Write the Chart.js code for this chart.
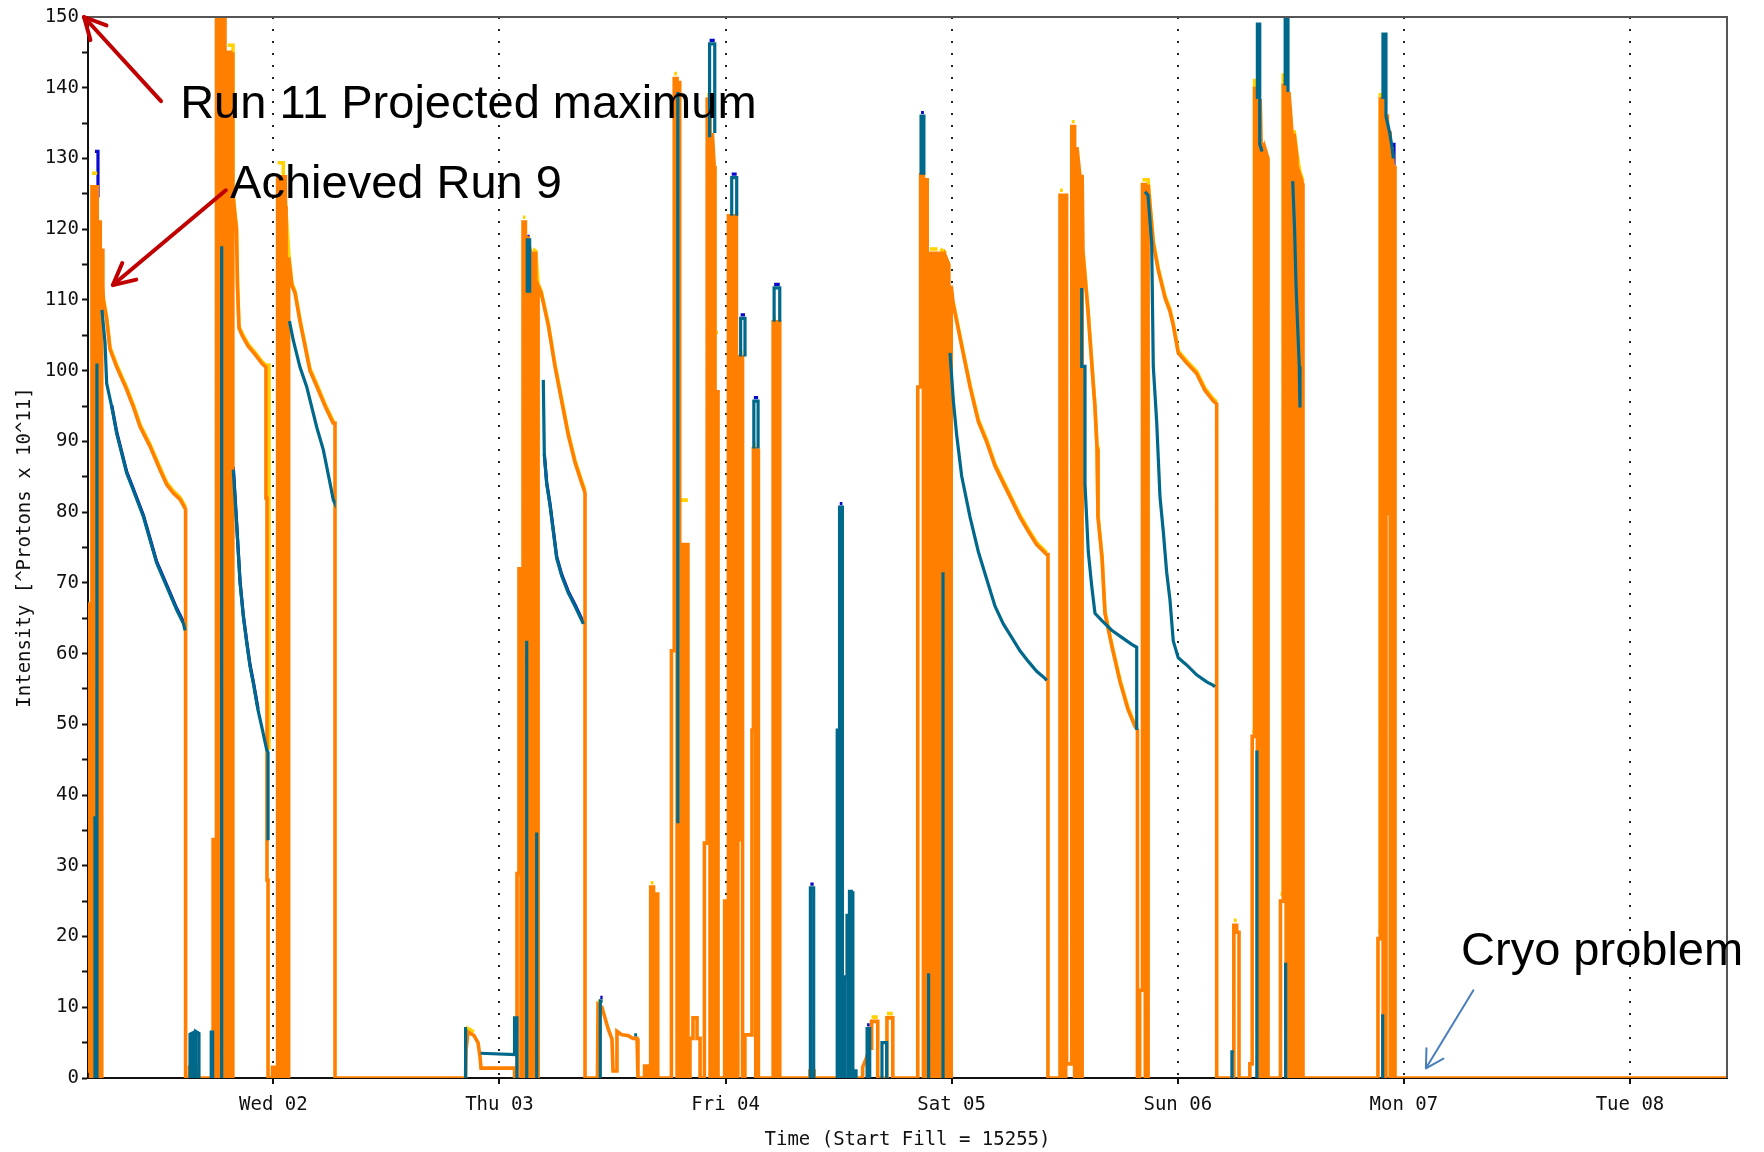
<!DOCTYPE html>
<html>
<head>
<meta charset="utf-8">
<title>Fill intensity</title>
<script src="https://cdn.jsdelivr.net/npm/chart.js@4.4.1/dist/chart.umd.min.js"></script>
<style>
  html, body { margin: 0; padding: 0; background: #fff; }
  canvas { display: block; background: #fff; }
</style>
</head>
<body>
<canvas id="fillChart" width="1764" height="1152"></canvas>
<script>
/* ── DATA ─────────────────────────────────────────────
   time = hours since Tue 01 00:00, intensity in 10^11 protons
   null = gap in the trace                                    */
const dayTicks  = [24, 48, 72, 96, 120, 144, 168];
const dayLabels = ["Wed 02", "Thu 03", "Fri 04", "Sat 05", "Sun 06", "Mon 07", "Tue 08"];
const timeRange = [4.32, 178.3];
const intensityRange = [0, 150];

const orangeTrace = [
  [4.30,1],[4.43,1],[4.43,67],[4.60,67],[4.60,0],[4.74,0],[4.74,126],[4.95,126],[4.95,0],[5.12,0],[5.12,126],[5.30,126],[5.30,0],[5.45,0],[5.45,121],[5.62,121],[5.62,0],[5.78,0],[5.78,117],[5.90,117],[5.90,112],[5.95,110],[6.30,107.3],[6.66,103],[7.37,100.5],[8.43,97.3],[9.13,94.9],[9.84,92.1],[10.90,89.3],[11.96,86],[12.67,83.9],[13.37,82.7],[14.09,81.8],[14.68,80.4],[14.68,0],
  [15.10,0],[15.10,1.5],[16.00,1.5],[16.00,0],
  [17.60,0],[17.60,33.7],[17.85,33.7],[17.85,0],[17.96,0],[17.96,150],[18.26,150],[18.26,0],[18.56,0],[18.56,150],[18.86,150],[18.86,0],[19.16,0],[19.16,145],[19.46,145],[19.46,0],[19.66,0],[19.66,145],[19.71,145],[19.71,125],[19.92,122],[20.08,120],[20.19,112],[20.35,106],[20.67,105],[21.30,103.5],[22.05,102.3],[22.79,101],[23.21,100.5],[23.21,82],[23.32,82],[23.32,28],[23.43,28],[23.43,0],
  [23.90,0],[23.90,1.5],[24.20,1.5],[24.20,0],[24.45,0],[24.45,127.4],[24.75,127.4],[24.75,0],[25.05,0],[25.05,127.4],[25.28,127.4],[25.28,123],[25.35,123],[25.35,0],[25.62,0],[25.62,116],[25.97,112],[26.29,111],[26.82,107],[27.88,100],[28.63,97.7],[29.48,95],[30.33,92.6],[30.54,92.6],[30.54,0],
  [44.40,0],[44.45,4],[44.66,6.5],[45.29,6],[45.72,5],[45.93,3],[46.04,1.4],[49.60,1.4],[49.60,0],
  [49.86,0],[49.86,28.9],[50.07,28.9],[50.07,72],[50.28,72],[50.28,0],[50.50,0],[50.50,121],[50.75,121],[50.75,0],[51.00,0],[51.00,119],[51.25,117],[51.25,0],[51.56,0],[51.56,116.6],[51.85,116.6],[51.85,0],[52.10,0],[52.10,112],[52.42,111],[53.18,106.4],[53.89,100.6],[54.60,95.7],[55.30,90.9],[56.02,87],[56.73,84.1],[57.08,82.7],[57.08,0],
  [58.40,0],[58.46,10.4],[58.88,10],[59.20,8.5],[59.52,7],[59.94,5.5],[60.05,1],[60.40,1],[60.47,6.6],[61.00,6.1],[61.64,6],[62.17,5.6],[62.60,5.6],[62.70,0],
  [63.40,0],[63.40,1.7],[63.75,1.7],[63.75,0],
  [64.05,0],[64.05,27],[64.35,27],[64.35,0],[64.65,0],[64.65,26],[64.80,26],[64.80,0],
  [66.25,0],[66.25,60.4],[66.55,60.4],[66.55,141.3],[66.85,141.3],[66.85,0],[67.10,0],[67.10,141],[67.15,141],[67.15,75.4],[67.45,75.4],[67.45,0],[67.75,0],[67.75,75.4],[68.00,75.4],[68.00,0],
  [68.22,0],[68.22,5.6],[68.54,5.6],[68.54,8.5],[68.97,8.5],[68.97,5.6],[69.29,5.6],[69.29,0],
  [69.75,0],[69.75,33.2],[70.05,33.2],[70.05,138.4],[70.35,138.4],[70.35,0],[70.60,0],[70.60,133.6],[70.80,128.7],[70.88,128.7],[70.88,0],[71.05,0],[71.05,97],[71.20,97],[71.20,0],
  [71.90,0],[71.90,25],[72.20,25],[72.20,0],
  [72.30,0],[72.30,121.9],[72.60,121.9],[72.60,0],[72.90,0],[72.90,121.9],[73.15,121.9],[73.15,0],[73.30,0],[73.30,33.7],[73.50,33.7],[73.50,102],[73.80,102],[73.80,0],[74.05,0],[74.05,6.1],[74.80,6.1],[74.80,49.2],[74.95,49.2],[74.95,89],[75.20,89],[75.20,0],[75.45,0],[75.45,89],[75.50,89],[75.50,0],
  [77.05,0],[77.05,106.9],[77.35,106.9],[77.35,0],[77.65,0],[77.65,106.9],[77.75,106.9],[77.75,0],
  [80.95,0],[80.95,1],[81.40,1],[81.40,0],
  [86.55,0],[86.55,1.5],[87.00,3],[87.30,4.2],[87.50,4.2],[87.50,8],[88.15,8],[88.15,0],
  [89.13,0],[89.13,8.5],[89.75,8.5],[89.75,0],
  [92.40,0],[92.40,97.7],[92.70,97.7],[92.70,127.7],[93.00,127.7],[93.00,0],[93.30,0],[93.30,127],[93.40,127],[93.40,0],[93.70,0],[93.70,116.6],[94.00,116.6],[94.00,0],[94.30,0],[94.30,116.6],[94.50,116.6],[94.50,0],[94.80,0],[94.80,116.6],[95.10,116.6],[95.10,0],[95.40,0],[95.40,116],[95.70,115],[95.70,0],[95.95,0],[95.95,112],[96.18,109.3],[97.06,103.5],[97.95,97.7],[98.83,92.8],[99.72,89.9],[100.60,86.5],[101.48,84.1],[102.37,81.7],[103.25,79.3],[104.13,77.3],[105.02,75.4],[106.08,74],[106.22,74],[106.22,0],
  [107.50,0],[107.50,124.8],[107.80,124.8],[107.80,0],[108.10,0],[108.10,124.8],[108.20,124.8],[108.20,2],[108.75,2],[108.75,134.5],[109.05,134.5],[109.05,0],[109.30,0],[109.30,131.6],[109.60,127.7],[109.60,0],[109.85,0],[109.85,127.7],[109.94,116.6],[110.47,108.4],[110.89,100.6],[111.21,94.8],[111.43,89],[111.53,79.3],[111.96,73.5],[112.27,65.7],[113.02,60.9],[113.87,56],[114.71,52.1],[115.46,49.7],[115.72,49.2],[115.72,0],
  [115.95,0],[115.95,12.4],[116.25,12.4],[116.25,126.3],[116.55,126.3],[116.55,0],[116.85,0],[116.85,126.3],[117.05,123.4],[117.40,118],[117.93,114.2],[118.64,110.3],[119.17,108.4],[119.52,106.4],[120.05,102.5],[120.94,101.1],[122.00,99.6],[122.89,97.2],[123.77,95.7],[124.13,95.3],[124.13,0],
  [125.95,0],[125.95,21.6],[126.25,21.6],[126.25,20.6],[126.50,20.6],[126.50,0],
  [127.65,0],[127.65,2],[127.90,2],[127.90,48.3],[128.15,48.3],[128.15,139.9],[128.45,139.9],[128.45,0],[128.75,0],[128.75,138.4],[128.85,132],[129.05,132],[129.05,0],[129.35,0],[129.35,131],[129.58,130],[129.58,0],
  [130.90,0],[130.90,25],[131.20,25],[131.20,140.3],[131.50,140.3],[131.50,0],[131.80,0],[131.80,139.4],[132.00,136],[132.10,134],[132.10,0],[132.35,0],[132.35,133.5],[132.65,130.2],[132.65,0],[132.95,0],[132.95,127.7],[133.29,126.3],[133.29,0],
  [141.25,0],[141.25,19.7],[141.50,19.7],[141.50,138.4],[141.80,138.4],[141.80,0],[142.10,0],[142.10,136],[142.25,136],[142.25,79.8],[142.35,79.8],[142.35,133.6],[142.55,133.6],[142.55,0],[142.74,0],[142.74,131.6],[142.88,128.7],[143.06,128.7],[143.06,0],
  [178.30,0]
];

const yellowTrace = [
  [4.74,127.9],[5.30,127.9],null,
  [5.95,110.3],[6.30,107.6],[6.66,103.3],[7.37,100.8],[8.43,97.6],[9.13,95.2],[9.84,92.4],[10.90,89.6],[11.96,86.3],[12.67,84.2],[13.37,83],[14.09,82.1],[14.68,80.7],null,
  [19.16,146],[19.71,146],[19.71,125.3],[19.92,122.3],[20.08,120.3],[20.19,112.3],[20.35,106.3],[20.67,105.3],[21.30,103.8],[22.05,102.6],[22.79,101.3],[23.21,100.8],[23.53,100.8],[23.53,46.4],null,
  [24.45,129.4],[25.05,129.4],[25.05,127.7],[25.30,123.3],[25.65,116.3],[25.97,112.3],[26.29,111.3],[26.82,107.3],[27.88,100.3],[28.63,98],[29.48,95.3],[30.33,92.9],[30.50,92.9],null,
  [44.45,4.5],[44.66,7],[45.29,6.5],null,
  [50.50,121.7],[50.75,121.7],null,
  [51.56,117.2],[51.85,116.9],[52.10,112.3],[52.42,111.3],[53.18,106.7],[53.89,100.9],[54.60,96],[55.30,91.2],[56.02,87.3],[56.73,84.4],[57.08,83],null,
  [58.46,11],[58.88,10.6],null,
  [64.05,27.6],[64.35,27.6],null,
  [66.55,142],[66.85,142],null,
  [67.15,81.7],[68.00,81.7],null,
  [70.05,139],[70.35,139],null,
  [71.05,105.4],[71.20,105.4],null,
  [73.50,102.6],[73.80,102.6],null,
  [74.95,89.6],[75.20,89.6],null,
  [77.05,107.5],[77.35,107.5],null,
  [87.50,8.6],[88.15,8.6],null,
  [89.13,9.1],[89.75,9.1],null,
  [92.70,128.3],[93.00,128.3],null,
  [93.70,117.2],[94.50,117.2],null,
  [94.80,117.2],[95.40,116.6],null,
  [96.18,109.6],[97.06,103.8],[97.95,98],[98.83,93.1],[99.72,90.2],[100.60,86.8],[101.48,84.4],[102.37,82],[103.25,79.6],[104.13,77.6],[105.02,75.7],[106.08,74.3],null,
  [107.50,125.5],[107.80,125.5],null,
  [108.75,135.2],[109.05,135.2],null,
  [109.94,116.9],[110.47,108.7],[110.89,100.9],[111.21,95.1],[111.43,89.3],[111.53,79.6],[111.96,73.8],[112.27,66],[113.02,61.2],[113.87,56.3],[114.71,52.4],[115.46,50],[115.72,49.5],null,
  [116.25,127],[116.85,127],[117.05,123.7],[117.40,118.3],[117.93,114.5],[118.64,110.6],[119.17,108.7],[119.52,106.7],[120.05,102.8],[120.94,101.4],[122.00,99.9],[122.89,97.5],[123.77,96],[124.13,95.6],null,
  [125.95,22.3],[126.25,22.3],null,
  [127.90,49],[128.15,49],[128.15,141],[128.45,141],null,
  [130.90,26],[131.20,26],[131.20,141.8],[131.50,141.8],null,
  [132.35,134],[132.65,130.7],[132.95,128.2],[133.29,126.8],null,
  [141.25,20.7],[141.50,20.7],[141.50,139],[141.80,139]
];

const tealTrace = [
  [5.06,0],[5.06,37],null,
  [5.27,0],[5.27,101],null,
  [5.80,108.6],[6.13,103.9],[6.30,98.2],[6.84,94.9],[7.37,91.1],[8.43,85.5],[9.13,83.1],[10.19,79.4],[10.90,76.1],[11.61,72.8],[12.67,69.5],[13.73,66.2],[14.44,64.3],[14.62,63.3],null,
  [15.15,0],[15.15,6.2],[15.45,6.4],[15.45,0],[15.75,0],[15.75,6.6],[16.10,6.3],[16.10,0],null,
  [17.40,0],[17.40,6.5],[17.55,6.5],[17.55,0],null,
  [18.51,0],[18.51,117.6],null,
  [19.74,86],[20.11,78],[20.46,70],[20.81,65.2],[21.17,61.5],[21.52,58.2],[21.87,55.8],[22.37,52],[22.79,49.5],[23.29,46.4],[23.43,46],[23.43,33.6],null,
  [25.70,107],[26.11,104.3],[26.82,100.5],[27.54,97.7],[28.60,92],[29.30,88.8],[30.01,84.1],[30.36,81.7],[30.43,81.5],null,
  [44.40,0],[44.40,7],[44.55,7],null,
  [46.00,3.5],[49.60,3.3],[49.60,8.5],[49.85,8.5],[49.85,0],null,
  [50.89,0],[50.89,61.8],null,
  [50.95,111],[50.95,118.5],[51.20,118.5],[51.20,111],null,
  [51.95,0],[51.95,34.7],null,
  [52.65,98.7],[52.76,88],[53.01,84],[53.36,81],[53.71,77.3],[54.07,73.5],[54.60,71],[55.30,68.6],[56.02,66.7],[56.73,64.7],[56.90,64.2],null,
  [58.70,0],[58.70,10.9],[58.95,10.9],null,
  [62.30,6.1],[62.60,6.1],null,
  [66.93,36],[66.93,139.4],null,
  [70.30,133],[70.30,146.2],[70.85,146.2],[70.85,133.6],null,
  [72.65,121.9],[72.65,127.3],[73.18,127.3],[73.18,121.9],null,
  [73.60,102],[73.60,107.4],[74.06,107.4],[74.06,102],null,
  [75.00,89],[75.00,95.7],[75.45,95.7],[75.45,89],null,
  [77.15,106.9],[77.15,111.7],[77.75,111.7],[77.75,106.9],null,
  [81.00,0],[81.00,26.9],[81.35,26.9],[81.35,0],null,
  [83.85,0],[83.85,49.2],[84.05,49.2],[84.05,0],[84.12,0],[84.12,80.7],[84.40,80.7],[84.40,0],[84.65,0],[84.65,14.3],[84.89,14.3],[84.89,23],[85.00,23],[85.00,0],[85.15,0],[85.15,26.4],[85.35,26.4],[85.35,0],[85.50,0],[85.50,26.4],[85.52,26.4],[85.52,1],[85.85,1],[85.85,0],null,
  [87.02,0],[87.02,7],[87.30,7],[87.30,0],null,
  [88.60,0],[88.60,5],[89.10,5],[89.10,0],null,
  [92.75,127.7],[92.75,136],[93.05,136],[93.05,127.7],null,
  [93.55,0],[93.55,14.8],null,
  [95.08,0],[95.08,71.5],null,
  [95.82,102.5],[96.18,95.7],[96.53,90.9],[97.06,85.1],[97.95,79.3],[98.83,74.4],[99.72,70.5],[100.60,66.7],[101.48,64.2],[102.37,62.3],[103.25,60.4],[104.13,58.9],[105.02,57.5],[105.90,56.5],[106.08,56.2],null,
  [109.80,111.7],[109.80,100.6],[110.15,100.6],[110.15,84],[110.50,74.4],[110.86,69.6],[111.21,65.7],[111.92,64.7],[112.99,63.3],[114.05,62.3],[115.11,61.3],[115.64,60.9],[115.64,49.2],null,
  [116.52,125.3],[116.84,124.8],[117.23,118],[117.40,100.6],[117.76,92.8],[118.11,82.2],[118.46,77.3],[118.82,71.5],[119.17,67.6],[119.52,61.8],[120.05,59.4],[120.94,58.4],[122.00,57],[123.07,56],[123.77,55.5],[123.95,55.3],null,
  [125.75,0],[125.75,3.7],[125.95,3.7],null,
  [128.40,0],[128.40,46.3],null,
  [128.45,138.4],[128.45,149],[128.70,149],[128.70,132],[128.95,131],null,
  [131.40,140.3],[131.40,150],[131.70,150],[131.70,139.4],null,
  [131.45,0],[131.45,16.3],null,
  [132.20,126.8],[132.40,120],[132.55,112.2],[132.72,106.4],[132.90,100.6],[132.97,94.8],null,
  [141.75,0],[141.75,9],null,
  [141.78,138.4],[141.78,147.6],[142.10,147.6],[142.10,136],[142.50,133.6],[142.74,131.6],[142.88,130]
];

const blueTrace = [
  [5.06,131],[5.38,131],[5.38,124.5],null,
  [6.84,95.1],[7.37,91.3],[8.43,85.7],[9.13,83.3],[10.19,79.6],[10.90,76.3],[11.61,73],[12.67,69.7],[13.73,66.4],[14.44,64.5],null,
  [19.74,86.4],[20.11,78.2],[20.46,70.2],[20.81,65.4],[21.17,61.7],[21.52,58.4],[21.87,56],[22.37,52.2],null,
  [50.95,119],[51.20,119],null,
  [52.76,88.2],[53.01,84.2],[53.36,81.2],[53.71,77.5],[54.07,73.7],[54.60,71.2],[55.30,68.8],[56.02,66.9],[56.73,64.9],[56.90,64.4],null,
  [58.70,11.4],[58.95,11.4],null,
  [70.30,146.7],[70.85,146.7],null,
  [72.65,127.8],[73.18,127.8],null,
  [73.60,107.9],[74.06,107.9],null,
  [75.00,96.2],[75.45,96.2],null,
  [77.15,112.2],[77.75,112.2],null,
  [81.00,27.4],[81.35,27.4],null,
  [84.12,81.2],[84.40,81.2],null,
  [87.02,7.5],[87.30,7.5],null,
  [92.75,136.5],[93.05,136.5],null,
  [142.70,132],[142.95,132],[142.95,129]
];

/* ── HELPERS ───────────────────────────────────────── */
const MONO = "'DejaVu Sans Mono', 'Liberation Mono', monospace";

function toPoints(arr) {
  let lastX = 0;
  return arr.map(p => {
    if (p === null) return { x: lastX, y: null };
    lastX = p[0];
    return { x: p[0], y: p[1] };
  });
}

function trace(data, color, width, order) {
  return {
    data: toPoints(data),
    borderColor: color,
    borderWidth: width,
    order,
    pointRadius: 0,
    tension: 0,
    spanGaps: false,
    fill: false,
    borderJoinStyle: "miter"
  };
}

function arrow(ctx, from, to, color, width, head, spread) {
  const ang = Math.atan2(to[1] - from[1], to[0] - from[0]);
  ctx.strokeStyle = color;
  ctx.lineWidth = width;
  ctx.lineCap = "round";
  ctx.lineJoin = "round";
  ctx.beginPath();
  ctx.moveTo(from[0], from[1]);
  ctx.lineTo(to[0], to[1]);
  ctx.stroke();
  ctx.beginPath();
  ctx.moveTo(to[0] - head * Math.cos(ang - spread), to[1] - head * Math.sin(ang - spread));
  ctx.lineTo(to[0], to[1]);
  ctx.lineTo(to[0] - head * Math.cos(ang + spread), to[1] - head * Math.sin(ang + spread));
  ctx.stroke();
}

/* ── PLUGINS ───────────────────────────────────────── */
const frame = {
  id: "frame",
  afterDatasetsDraw(chart) {
    const { ctx, chartArea: a } = chart;
    ctx.save();
    ctx.strokeStyle = "#555";
    ctx.lineWidth = 2;
    ctx.beginPath();
    ctx.moveTo(a.left, a.top);
    ctx.lineTo(a.right, a.top);
    ctx.lineTo(a.right, a.bottom);
    ctx.stroke();
    ctx.restore();
  }
};

// slide annotations, placed in data units (hours, intensity)
const notes = {
  id: "notes",
  afterDraw(chart) {
    const { ctx, scales: { x, y } } = chart;
    const px = (t, v) => [x.getPixelForValue(t), y.getPixelForValue(v)];
    ctx.save();
    arrow(ctx, px(12.07, 138.1), px(3.90, 150.0), "#C00000", 4, 24, 0.47);
    arrow(ctx, px(18.95, 125.5), px(6.96, 112.1), "#C00000", 4, 24, 0.47);
    arrow(ctx, px(151.38, 12.4), px(146.34, 1.37), "#4A7EBB", 2, 20, 0.52);
    ctx.fillStyle = "#000";
    ctx.font = "47px 'Liberation Sans', Arial, sans-serif";
    ctx.textBaseline = "alphabetic";
    ctx.textAlign = "left";
    let p = px(14.1, 135.7);
    ctx.fillText("Run 11 Projected maximum", p[0], p[1]);
    p = px(19.4, 124.4);
    ctx.fillText("Achieved Run 9", p[0], p[1]);
    p = px(150.07, 16.0);
    ctx.fillText("Cryo problem", p[0], p[1]);
    ctx.restore();
  }
};

/* ── CHART ─────────────────────────────────────────── */
new Chart(document.getElementById("fillChart"), {
  type: "line",
  data: {
    datasets: [
      trace(tealTrace,   "#00688B", 3.2, 0),
      trace(orangeTrace, "#FF8000", 3.6, 1),
      trace(yellowTrace, "#FFD200", 3.6, 2),
      trace(blueTrace,   "#0A0ACF", 3.2, 3)
    ]
  },
  options: {
    responsive: false,
    animation: false,
    devicePixelRatio: 1,
    events: [],
    layout: { padding: { top: 17, right: 37, left: 0, bottom: 0 } },
    plugins: { legend: { display: false }, tooltip: { enabled: false } },
    scales: {
      x: {
        type: "linear",
        min: timeRange[0],
        max: timeRange[1],
        afterBuildTicks: s => { s.ticks = dayTicks.map(v => ({ value: v })); },
        afterFit: s => { s.height = 74; },
        ticks: {
          autoSkip: false, maxRotation: 0, padding: 10,
          color: "#111", font: { family: MONO, size: 19 },
          callback: (v, i) => dayLabels[i]
        },
        grid: { color: "#222", lineWidth: 2, drawTicks: true, tickLength: 6, tickWidth: 2, tickColor: "#111" },
        border: { display: true, color: "#111", width: 2, dash: [2, 10] },
        title: {
          display: true, text: "Time (Start Fill = 15255)",
          color: "#111", font: { family: MONO, size: 19 },
          padding: { top: 0, bottom: 1 }
        }
      },
      y: {
        min: intensityRange[0],
        max: intensityRange[1],
        afterFit: s => { s.width = 88; },
        ticks: {
          stepSize: 5, autoSkip: false, padding: 3,
          color: "#111", font: { family: MONO, size: 19 },
          callback: v => (v % 10 === 0 ? String(v) : "")
        },
        grid: { drawOnChartArea: false, drawTicks: true, tickLength: 6, tickWidth: 2, tickColor: "#111" },
        border: { display: true, color: "#111", width: 2 },
        title: {
          display: true, text: "Intensity [^Protons x 10^11]",
          color: "#111", font: { family: MONO, size: 19 },
          padding: { top: 14, bottom: 0 }
        }
      }
    }
  },
  plugins: [frame, notes]
});
</script>
</body>
</html>
